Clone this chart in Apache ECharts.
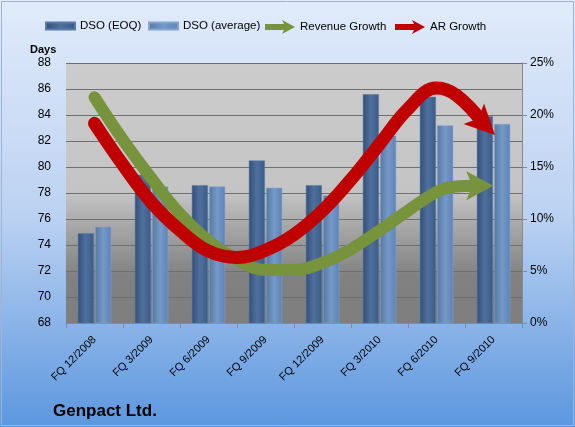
<!DOCTYPE html>
<html>
<head>
<meta charset="utf-8">
<script src="https://cdn.jsdelivr.net/npm/echarts@6/dist/echarts.min.js"></script>
<style>
  html, body { margin: 0; padding: 0; }
  #chart { width: 575px; height: 427px; }
</style>
</head>
<body>
<div id="chart"></div>
<script>
// quarters on the x axis
var quarters = ['FQ 12/2008', 'FQ 3/2009', 'FQ 6/2009', 'FQ 9/2009', 'FQ 12/2009', 'FQ 3/2010', 'FQ 6/2010', 'FQ 9/2010'];

// DSO in days (left axis)
var dsoEoq = [74.9, 79.4, 78.6, 80.5, 78.6, 85.6, 85.4, 83.9];
var dsoAvg = [75.4, 78.5, 78.5, 78.4, 77.8, 82.4, 83.2, 83.3];

// growth curves in % (right axis), position counted in quarters (0 = first quarter)
// last point of each curve is where the arrow head sits
var revenueGrowth = [[0, 21.7], [0.5, 17.6], [1, 13.9], [1.5, 10.5], [2, 7.9], [2.5, 6.1], [3, 5.1], [3.5, 5.1], [4, 5.8], [4.5, 7.1], [5, 8.9], [5.5, 10.8], [6, 12.6], [6.3, 13.1], [6.76, 13.2]];
var arGrowth = [[0, 19.2], [0.5, 15.2], [1, 11.6], [1.5, 8.9], [2, 6.9], [2.5, 6.3], [3, 7.0], [3.5, 8.5], [4, 10.8], [4.5, 13.8], [5, 17.2], [5.5, 20.6], [6, 22.6], [6.35, 21.9], [6.84, 19.1]];

var daysTicks = { min: 68, max: 88, step: 2 };
var pctTicks = { min: 0, max: 25, step: 5 };

var FONT = 'Liberation Sans';
var GREEN = '#77933c';
var RED = '#c00000';
var ARROW_ICON = 'path://M0,4 L19,4 L17,0 L30,7 L17,14 L19,10 L0,10 Z';
// arrow head pointing right, centred on its box
var ARROW_HEAD = 'path://M0,0 L27,14.5 L0,29 L6,14.5 Z';

function cylinder(c1, c2, c3) {
  return new echarts.graphic.LinearGradient(0, 0, 1, 0, [
    { offset: 0, color: c1 },
    { offset: 0.5, color: c2 },
    { offset: 1, color: c3 }
  ]);
}

function legendItem(left, name, opts) {
  return Object.assign({
    left: left,
    top: 20,
    padding: 0,
    itemGap: 0,
    textStyle: { fontFamily: FONT, fontSize: 11.5, color: '#000' },
    data: [name]
  }, opts);
}

var chart = echarts.init(document.getElementById('chart'));

var option = {
  animation: false,
  backgroundColor: new echarts.graphic.LinearGradient(0, 0, 0, 1, [
    { offset: 0, color: '#e1ebfb' },
    { offset: 0.5, color: '#bcd2f2' },
    { offset: 1, color: '#5c97de' }
  ]),
  textStyle: { fontFamily: FONT },
  title: [
    {
      text: 'Genpact Ltd.',
      left: 48,
      top: 398,
      textStyle: { fontFamily: FONT, fontSize: 17, fontWeight: 'bold', color: '#000' }
    },
    {
      text: 'Days',
      left: 25,
      top: 39,
      textStyle: { fontFamily: FONT, fontSize: 11, fontWeight: 'bold', color: '#000' }
    }
  ],
  legend: [
    legendItem(45, 'DSO (EOQ)', { itemWidth: 29, itemHeight: 7, icon: 'rect' }),
    legendItem(148, 'DSO (average)', { itemWidth: 29, itemHeight: 7, icon: 'rect' }),
    legendItem(265, { name: 'Revenue Growth', icon: ARROW_ICON, itemStyle: { color: GREEN } }, { top: 20, itemWidth: 30, itemHeight: 14 }),
    legendItem(395, { name: 'AR Growth', icon: ARROW_ICON, itemStyle: { color: RED } }, { top: 20, itemWidth: 30, itemHeight: 14 })
  ],
  grid: {
    left: 66,
    right: 53,
    top: 63,
    bottom: 104,
    show: true,
    borderWidth: 0,
    backgroundColor: new echarts.graphic.LinearGradient(0, 0, 0, 1, [
      { offset: 0, color: '#cccccc' },
      { offset: 0.5, color: '#c4c4c4' },
      { offset: 0.62, color: '#a9a9a9' },
      { offset: 0.82, color: '#818181' },
      { offset: 1, color: '#7e7e7e' }
    ])
  },
  xAxis: [
    {
      type: 'category',
      data: quarters,
      axisLine: { lineStyle: { color: '#8a8a8a', width: 1 } },
      axisTick: { show: true, length: 5, lineStyle: { color: '#8a8a8a' } },
      axisLabel: { rotate: 45, fontSize: 11, color: '#000', fontFamily: FONT, margin: 15 }
    },
    {
      type: 'value',
      min: -0.5,
      max: 7.5,
      show: false
    }
  ],
  yAxis: [
    {
      type: 'value',
      min: daysTicks.min,
      max: daysTicks.max,
      interval: daysTicks.step,
      axisLine: { show: false },
      axisTick: { show: false },
      axisLabel: { fontSize: 12, color: '#000', fontFamily: FONT, margin: 15 },
      splitLine: { show: true, lineStyle: { color: '#6f6f6f', width: 1 } }
    },
    {
      type: 'value',
      min: pctTicks.min,
      max: pctTicks.max,
      interval: pctTicks.step,
      position: 'right',
      axisLine: { show: true, lineStyle: { color: '#8a8a8a' } },
      axisTick: { show: true, length: 5, lineStyle: { color: '#8a8a8a' } },
      axisLabel: { fontSize: 12, color: '#000', fontFamily: FONT, margin: 8, formatter: '{value}%' },
      splitLine: { show: false }
    }
  ],
  series: [
    {
      name: 'DSO (EOQ)',
      type: 'bar',
      data: dsoEoq,
      barWidth: 16,
      barGap: '8%',
      itemStyle: { color: cylinder('#344f78', '#4f709e', '#3b5a86'), borderColor: '#5a7aa6', borderWidth: 0.5 }
    },
    {
      name: 'DSO (average)',
      type: 'bar',
      data: dsoAvg,
      barWidth: 16,
      barGap: '8%',
      itemStyle: { color: cylinder('#55799f', '#7599c8', '#5d83b5'), borderColor: '#84a3cf', borderWidth: 0.5 }
    },
    {
      name: 'Revenue Growth',
      type: 'line',
      xAxisIndex: 1,
      yAxisIndex: 1,
      smooth: 0.4,
      symbol: 'none',
      color: GREEN,
      lineStyle: { color: GREEN, width: 12, cap: 'round', join: 'round' },
      data: revenueGrowth,
      z: 3
    },
    {
      name: 'AR Growth',
      type: 'line',
      xAxisIndex: 1,
      yAxisIndex: 1,
      smooth: 0.4,
      symbol: 'none',
      color: RED,
      lineStyle: { color: RED, width: 13, cap: 'round', join: 'round' },
      data: arGrowth,
      z: 4
    },
    {
      name: 'Revenue Growth',
      type: 'scatter',
      xAxisIndex: 1,
      yAxisIndex: 1,
      symbol: ARROW_HEAD,
      symbolSize: [27, 29],
      symbolRotate: 0,
      itemStyle: { color: GREEN, opacity: 1 },
      data: [revenueGrowth[revenueGrowth.length - 1]],
      z: 5
    },
    {
      name: 'AR Growth',
      type: 'scatter',
      xAxisIndex: 1,
      yAxisIndex: 1,
      symbol: ARROW_HEAD,
      symbolSize: [30, 29],
      symbolRotate: -45,
      itemStyle: { color: RED, opacity: 1 },
      data: [arGrowth[arGrowth.length - 1]],
      z: 6
    }
  ],
  graphic: [
    {
      type: 'rect',
      shape: { x: 1.5, y: 1.5, width: 572, height: 424 },
      style: { fill: 'none', stroke: '#9fb4d2', lineWidth: 1 },
      silent: true
    }
  ]
};

chart.setOption(option);
</script>
</body>
</html>
